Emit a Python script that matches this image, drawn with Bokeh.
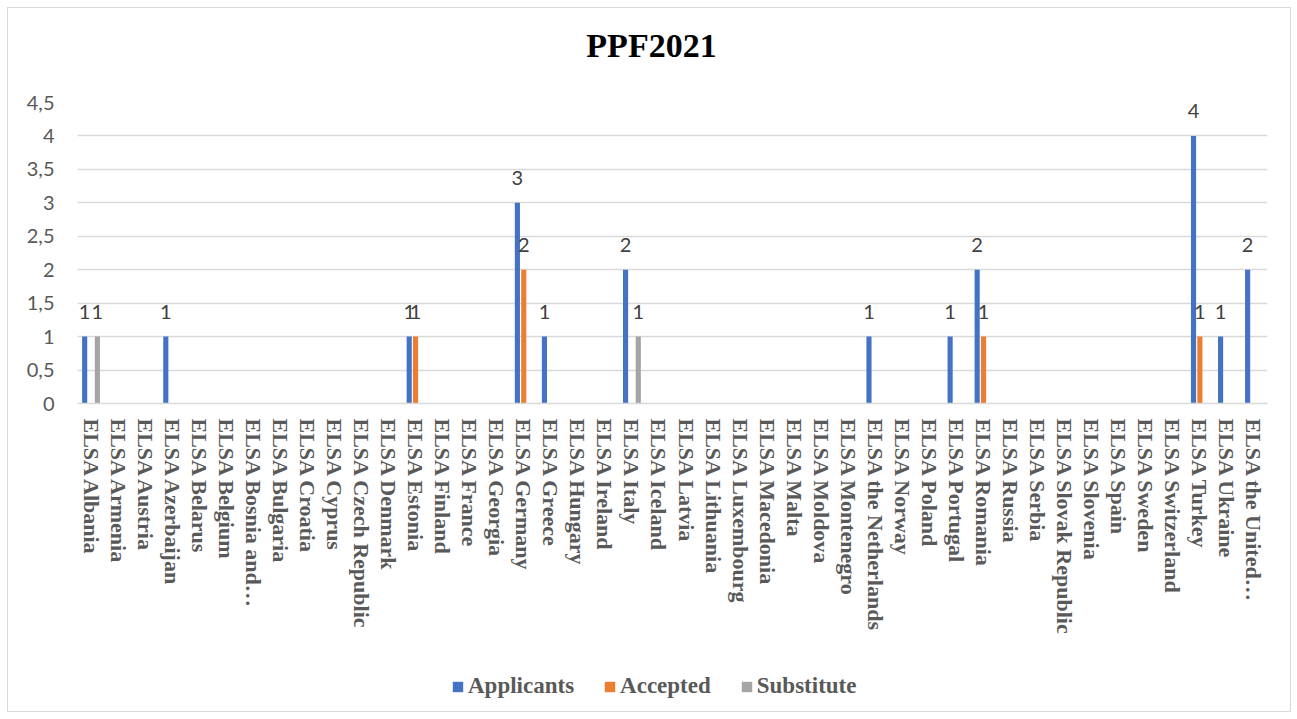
from bokeh.plotting import figure
from bokeh.layouts import column
from bokeh.models import FactorRange, ColumnDataSource, FixedTicker, Legend, LegendItem, Label
from bokeh.transform import dodge
from bokeh.core.properties import value
from bokeh.embed import file_html
from bokeh.resources import INLINE

chart_title = "PPF2021"
categories = [
    "ELSA Albania", "ELSA Armenia", "ELSA Austria", "ELSA Azerbaijan", "ELSA Belarus",
    "ELSA Belgium", "ELSA Bosnia and…", "ELSA Bulgaria", "ELSA Croatia", "ELSA Cyprus",
    "ELSA Czech Republic", "ELSA Denmark", "ELSA Estonia", "ELSA Finland", "ELSA France",
    "ELSA Georgia", "ELSA Germany", "ELSA Greece", "ELSA Hungary", "ELSA Ireland",
    "ELSA Italy", "ELSA Iceland", "ELSA Latvia", "ELSA Lithuania", "ELSA Luxembourg",
    "ELSA Macedonia", "ELSA Malta", "ELSA Moldova", "ELSA Montenegro", "ELSA the Netherlands",
    "ELSA Norway", "ELSA Poland", "ELSA Portugal", "ELSA Romania", "ELSA Russia",
    "ELSA Serbia", "ELSA Slovak Republic", "ELSA Slovenia", "ELSA Spain", "ELSA Sweden",
    "ELSA Switzerland", "ELSA Turkey", "ELSA Ukraine", "ELSA the United…",
]
applicants = [1, 0, 0, 1, 0, 0, 0, 0, 0, 0,
              0, 0, 1, 0, 0, 0, 3, 1, 0, 0,
              2, 0, 0, 0, 0, 0, 0, 0, 0, 1,
              0, 0, 1, 2, 0, 0, 0, 0, 0, 0,
              0, 4, 1, 2]
accepted = [0, 0, 0, 0, 0, 0, 0, 0, 0, 0,
            0, 0, 1, 0, 0, 0, 2, 0, 0, 0,
            0, 0, 0, 0, 0, 0, 0, 0, 0, 0,
            0, 0, 0, 1, 0, 0, 0, 0, 0, 0,
            0, 1, 0, 0]
substitute = [1, 0, 0, 0, 0, 0, 0, 0, 0, 0,
              0, 0, 0, 0, 0, 0, 0, 0, 0, 0,
              1, 0, 0, 0, 0, 0, 0, 0, 0, 0,
              0, 0, 0, 0, 0, 0, 0, 0, 0, 0,
              0, 0, 0, 0]
series_names = ["Applicants", "Accepted", "Substitute"]
series_colors = ["#4472C4", "#ED7D31", "#A5A5A5"]
y_ticks = [0, 0.5, 1, 1.5, 2, 2.5, 3, 3.5, 4, 4.5]
y_tick_labels = ["0", "0,5", "1", "1,5", "2", "2,5", "3", "3,5", "4", "4,5"]

W = 1282
series_values = [applicants, accepted, substitute]
offsets = [-0.235, 0.0, 0.235]

# ---- title strip (frame aligned with the chart's frame: 1190 px wide)
t = figure(width=W, height=80, output_backend="svg", toolbar_location=None,
           x_axis_location=None, y_axis_location=None,
           min_border_left=0, min_border_right=0, min_border_top=0, min_border_bottom=0,
           x_range=(0, 1190), y_range=(0, 80))
t.outline_line_color = None
t.grid.grid_line_color = None
t.add_layout(Label(x=574, y=43, text=chart_title, text_align="center", text_baseline="middle",
                   text_font="Liberation Serif", text_font_style="bold",
                   text_font_size="34px", text_color="#000000"))

# ---- main chart
p = figure(
    x_range=FactorRange(factors=categories, range_padding=0),
    y_range=(0, 4.5),
    width=W, height=562,
    output_backend="svg", toolbar_location=None,
    min_border_left=69, min_border_right=23, min_border_top=14, min_border_bottom=247,
)
p.outline_line_color = None
p.background_fill_color = "white"
p.border_fill_color = "white"

for name, vals, color, off in zip(series_names, series_values, series_colors, offsets):
    src = ColumnDataSource(dict(cat=categories, val=vals))
    p.vbar(x=dodge("cat", off, range=p.x_range), top="val", width=0.19, source=src,
           fill_color=color, line_color=None)
    nz = [i for i, v in enumerate(vals) if v != 0]
    lsrc = ColumnDataSource(dict(cat=[categories[i] for i in nz], val=[vals[i] for i in nz],
                                 txt=[str(vals[i]) for i in nz]))
    p.text(x=dodge("cat", off, range=p.x_range), y="val", text="txt", source=lsrc,
           text_align="center", text_baseline="middle", y_offset=-25,
           text_font=value("Lato"), text_font_size="20px", text_color="#404040")

p.yaxis.ticker = FixedTicker(ticks=y_ticks)
p.yaxis.major_label_overrides = {t_: l for t_, l in zip(y_ticks, y_tick_labels)}
p.yaxis.axis_line_color = None
p.yaxis.major_tick_line_color = None
p.yaxis.minor_tick_line_color = None
p.yaxis.major_label_text_font = "Lato"
p.yaxis.major_label_text_font_size = "20px"
p.yaxis.major_label_text_color = "#595959"
p.yaxis.major_label_standoff = 17

p.xaxis.major_label_orientation = "vertical"
p.xaxis.axis_line_color = "#d9d9d9"
p.xaxis.axis_line_width = 1.5
p.xaxis.major_tick_line_color = None
p.xaxis.minor_tick_line_color = None
p.xaxis.major_label_text_font = "Liberation Serif"
p.xaxis.major_label_text_font_style = "bold"
p.xaxis.major_label_text_font_size = "22px"
p.xaxis.major_label_text_color = "#595959"
p.xaxis.major_label_standoff = 9

p.xgrid.grid_line_color = None
p.ygrid.grid_line_color = "#d9d9d9"
p.ygrid.grid_line_width = 1.5
p.ygrid.ticker = FixedTicker(ticks=y_ticks)

# ---- legend strip: the same series drawn below a y-range they never reach,
# so only their legend swatches show
q = figure(width=W, height=61, output_backend="svg", toolbar_location=None,
           x_axis_location=None, y_axis_location=None,
           min_border_left=0, min_border_right=0, min_border_top=0, min_border_bottom=0,
           x_range=FactorRange(factors=categories, range_padding=0), y_range=(10, 11))
q.outline_line_color = None
q.grid.grid_line_color = None
items = []
for name, vals, color, off in zip(series_names, series_values, series_colors, offsets):
    src = ColumnDataSource(dict(cat=categories, val=vals))
    r = q.vbar(x=dodge("cat", off, range=q.x_range), top="val", width=0.19, source=src,
               fill_color=color, line_color=None)
    items.append(LegendItem(label=name, renderers=[r]))
legend = Legend(items=items, orientation="horizontal", location=(374, 12),
                label_text_font="Liberation Serif", label_text_font_style="bold",
                label_text_font_size="23px", label_text_color="#595959",
                glyph_width=13, glyph_height=13, label_standoff=4, spacing=29,
                padding=0, margin=0, border_line_color=None, background_fill_alpha=0)
q.add_layout(legend, "center")

layout = column(t, p, q, spacing=0)
layout.styles = {"margin": "7px 0 0 7px", "border": "1px solid #d9d9d9", "background": "white"}

open("out.html", "w").write(file_html(layout, INLINE))
